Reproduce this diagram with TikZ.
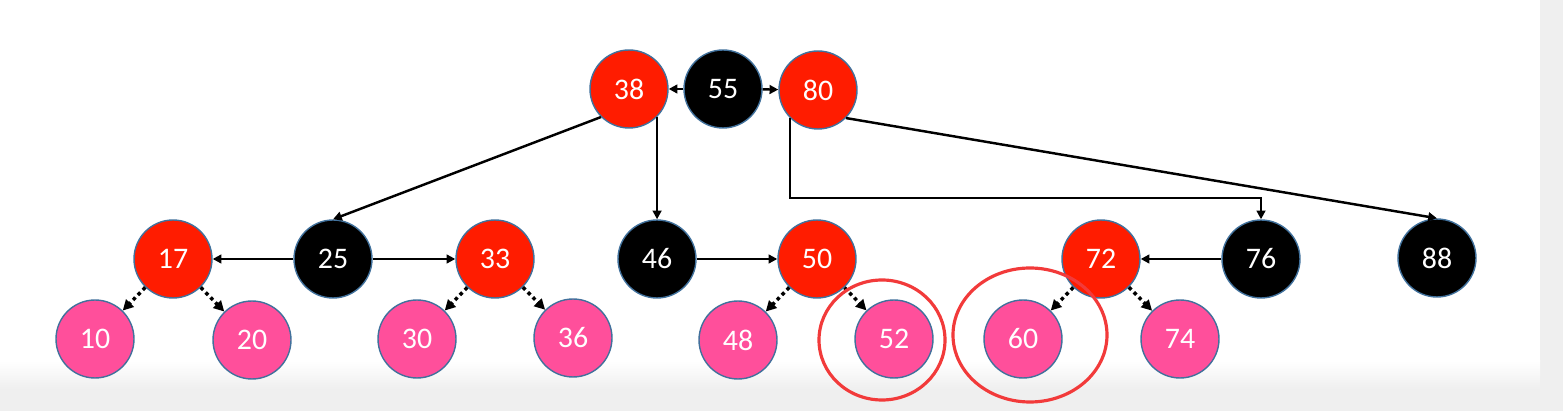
\documentclass[tikz,border=0pt]{standalone}
\usepackage{fontspec}
\setmainfont{Carlito}
\usepackage[HTML]{xcolor}
\usepackage{tikz}
\usetikzlibrary{positioning, arrows, arrows.meta}

\definecolor{rbred}{HTML}{FF1C00}
\definecolor{leafpink}{HTML}{FF4F9B}
\definecolor{rimblue}{HTML}{41719C}
\definecolor{markred}{HTML}{F23A3A}
\definecolor{pagegray}{HTML}{EFEFEF}

\begin{document}
\begin{tikzpicture}[x=0.02cm, y=-0.02cm,
  key/.style={circle, draw=rimblue, line width=0.8pt, minimum size=1.56cm,
    inner sep=0pt, text=white, font=\fontsize{17}{20}\selectfont},
  redkey/.style={key, fill=rbred},
  blackkey/.style={key, fill=black},
  leafkey/.style={key, fill=leafpink},
  link/.style={-{Triangle[length=5pt, width=5pt]}, line width=1.4pt},
  dotlink/.style={-{Triangle[length=6pt, width=6pt]}, line width=2pt,
    dash pattern=on 2pt off 2pt}]

% Page background
\fill[pagegray] (0,0) rectangle (1563,411);
\fill[white] (0,0) rectangle (1540,362);
\shade[top color=white, bottom color=pagegray] (0,361) rectangle (1540,389);
\useasboundingbox (0,0) rectangle (1563,411);

% Top row
\node[redkey]   (n38) at (629,89) {38};
\node[blackkey] (n55) at (723,89) {55};
\node[redkey]   (n80) at (818,90) {80};

% Middle row
\node[redkey]   (n17) at (173,259) {17};
\node[blackkey] (n25) at (333,259) {25};
\node[redkey]   (n33) at (495,259) {33};
\node[blackkey] (n46) at (657,259) {46};
\node[redkey]   (n50) at (817,259) {50};
\node[redkey]   (n72) at (1101,259) {72};
\node[blackkey] (n76) at (1261,259) {76};
\node[blackkey] (n88) at (1437,258) {88};

% Leaves
\node[leafkey] (n10) at (95,339) {10};
\node[leafkey] (n20) at (252,340) {20};
\node[leafkey] (n30) at (417,339) {30};
\node[leafkey] (n36) at (573,338) {36};
\node[leafkey] (n48) at (738,340) {48};
\node[leafkey] (n52) at (894,339) {52};
\node[leafkey] (n60) at (1023,339) {60};
\node[leafkey] (n74) at (1180,339) {74};

% Solid links
\draw[link] (n55) -- (n38);
\draw[link] (n55) -- (n80);
\draw[link] (n38.-135) -- (n25.north);
\draw[link] (n38.-45) -- (n38.-45 |- n46.north);
\draw[link] (n80.-135) -- (n80.-135 |- 0,198) -| (n76.north);
\draw[link] (n80.-45) -- (n88.north);
\draw[link] (n25) -- (n17);
\draw[link] (n25) -- (n33);
\draw[link] (n46) -- (n50);
\draw[link] (n76) -- (n72);

% Dotted links to leaves
\foreach \p/\c in {17/10, 17/20, 33/30, 33/36, 50/48, 50/52, 72/60, 72/74}{
  \draw[dotlink] (n\p) -- (n\c);
}

% Marked leaves
\draw[markred, line width=1.8pt] (882,340) ellipse (63 and 60);
\draw[markred, line width=1.8pt] (1030,335) ellipse (77 and 67);
\end{tikzpicture}
\end{document}
